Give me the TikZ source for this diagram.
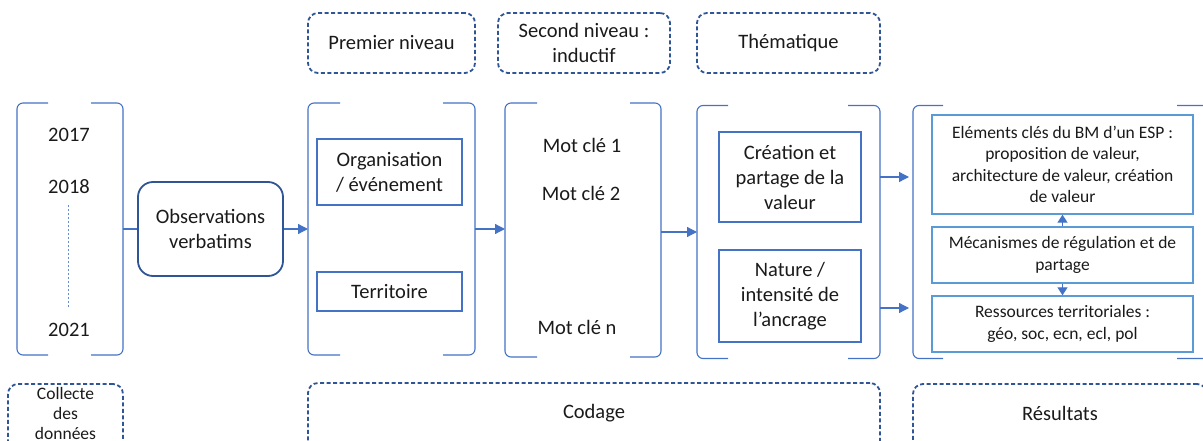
\documentclass[tikz,border=0pt]{standalone}
\usepackage{fontspec}
\setmainfont{Carlito}
\usetikzlibrary{arrows.meta,calc}
\definecolor{obl}{HTML}{4472C4}
\definecolor{dbl}{HTML}{2F5597}
\definecolor{lbl}{HTML}{5B9BD5}
\definecolor{txt}{HTML}{1A1A1A}
\tikzset{
  big/.style={font=\fontsize{20.5}{25}\selectfont, text=txt, align=center, inner sep=0pt},
  small/.style={font=\fontsize{17.5}{21.5}\selectfont, text=txt, align=center, inner sep=0pt},
  area/.style={draw=none, inner sep=0pt, outer sep=0pt},
  brkline/.style={draw=obl, line width=1.1pt, rounded corners=6pt},
  ibox/.style={draw=obl, line width=1.1pt, big},
  rbox/.style={draw=lbl, line width=1.4pt, small},
  dbox/.style={draw=dbl, line width=1.8pt, dash pattern=on 4pt off 2.5pt, rounded corners=10pt, big},
  obox/.style={draw=dbl, line width=1.8pt, rounded corners=15pt, big},
  arr/.style={draw=obl, line width=1.3pt, -{Triangle[length=10pt,width=10pt]}},
  sarr/.style={draw=obl, line width=1.3pt, -{Triangle[length=8pt,width=10pt]}},
  conn/.style={draw=obl, line width=1.3pt}
}
\newcommand\mybrk[3]{%
  \draw[brkline] ([xshift=#2]#1.north west) -- (#1.north west) -- (#1.south west) -- ([xshift=#2]#1.south west);
  \draw[brkline] ([xshift=-#3]#1.north east) -- (#1.north east) -- (#1.south east) -- ([xshift=-#3]#1.south east);
}
\begin{document}
\begin{tikzpicture}[x=1pt,y=-1pt]
\useasboundingbox (0,0) rectangle (1203,441);
\clip (0,0) rectangle (1203,441);

% top dashed labels
\node[dbox, minimum width=167, minimum height=60] (prem) at (391.5,43) {Premier niveau};
\node[dbox, minimum width=172, minimum height=60] (sec) at (584,43) {Second niveau :\\inductif};
\node[dbox, minimum width=183, minimum height=60] (them) at (788.5,43) {Thématique};

% bracket areas
\node[area, minimum width=106, minimum height=252] (yrs) at (70,229) {};
\node[area, minimum width=167, minimum height=252] (b2) at (391.5,229) {};
\node[area, minimum width=156, minimum height=254] (b3) at (583,230) {};
\node[area, minimum width=183, minimum height=253] (b4) at (788.5,232) {};
\node[area, minimum width=297, minimum height=253] (b5) at (1061.5,232) {};
\mybrk{yrs}{31}{32}
\mybrk{b2}{32}{32}
\mybrk{b3}{32}{31}
\mybrk{b4}{31}{32}
\mybrk{b5}{30}{33}

% years
\node[big] (y17) at (69,135) {2017};
\node[big] (y18) at (69,187) {2018};
\node[big] (y21) at (69,330) {2021};
\coordinate (d1) at (68,205);
\coordinate (d2) at (68,308);
\draw[draw=obl!80, line width=0.8pt, dash pattern=on 2pt off 2pt] (d1) -- (d2);

% observations
\node[obox, minimum width=145, minimum height=94] (obs) at (210.5,229) {Observations\\verbatims};

% first level
\node[ibox, minimum width=145, minimum height=66] (org) at (389.5,172) {Organisation\\/ événement};
\node[ibox, minimum width=145, minimum height=39] (terr) at (389.5,291.5) {Territoire};

% second level
\node[big] (m1) at (582,145) {Mot clé 1};
\node[big] (m2) at (581,193) {Mot clé 2};
\node[big] (mn) at (577,327) {Mot clé n};

% thematic
\node[ibox, minimum width=142, minimum height=90] (crea) at (790,177) {Création et\\partage de la\\valeur};
\node[ibox, minimum width=142, minimum height=92] (nat) at (790,296) {Nature /\\intensité de\\l’ancrage};

% results
\node[rbox, minimum width=261, minimum height=99] (elem) at (1062.5,164.5) {Eléments clés du BM d’un ESP :\\proposition de valeur,\\architecture de valeur, création\\de valeur};
\node[rbox, minimum width=261, minimum height=56] (meca) at (1062.5,255) {Mécanismes de régulation et de\\partage};
\node[rbox, minimum width=261, minimum height=56] (ress) at (1062.5,324) {Ressources territoriales :\\géo, soc, ecn, ecl, pol};

% connectors
\draw[conn] (yrs.east) -- (obs.west);
\draw[arr] (obs.east) -- (b2.west);
\draw[arr] (b2.east) -- (b2.east -| b3.west);
\draw[arr] (b4.west -| b3.east) -- (b4.west);
\draw[arr, shorten >=4pt] ([yshift=55pt]b4.east) -- ([yshift=55pt]b5.west);
\draw[arr, shorten >=4pt] ([yshift=-76pt]b4.east) -- ([yshift=-76pt]b5.west);
\draw[sarr] (meca.north) -- (elem.south);
\draw[sarr] (meca.south) -- (ress.north);

% bottom dashed labels
\node[dbox, minimum width=115, minimum height=80] (coll) at (65.5,424) {};
\node[small, font=\fontsize{17.5}{20}\selectfont] (collt) at (65.5,413) {Collecte\\des\\données};
\node[dbox, minimum width=572, minimum height=80] (cod) at (594,423) {};
\node[big] (codt) at (594,413) {Codage};
\node[dbox, minimum width=294, minimum height=80] (res) at (1060,424) {};
\node[big] (rest) at (1060,413) {Résultats};
\end{tikzpicture}
\end{document}
